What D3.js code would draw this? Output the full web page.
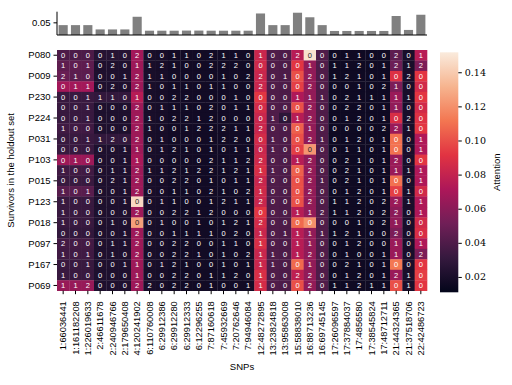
<!DOCTYPE html>
<html>
<head>
<meta charset="utf-8">
<script src="https://cdn.jsdelivr.net/npm/d3@7"></script>
<style>
  body { margin: 0; background: #fff; }
  svg text { font-family: "Liberation Sans", Arial, sans-serif; }
  .cbar text { font-family: "DejaVu Serif", serif; }
</style>
</head>
<body>
<svg id="chart" width="512" height="385"></svg>
<script>
// SNP columns
var snps = ["1:66036441","1:161182208","1:226019633","2:46611678","2:240946766","2:179650408",
  "4:120241902","6:110760008","6:29912386","6:29912280","6:29912333","6:12296255",
  "7:87160618","7:45932669","7:20762646","7:94946084","12:48272895","13:23824818",
  "13:95863008","15:58838010","16:88713236","16:69745145","17:26096597","17:37884037",
  "17:4856580","17:38545824","17:48712711","21:44324365","21:37518706","22:42486723"];

// row labels (only every other survivor is labelled)
var survivorLabels = ["P080","P009","P230","P224","P031","P103","P015","P123","P018","P097","P167","P069"];

// mean attention per SNP (top bars)
var snpAttention = [0.039,0.039,0.039,0.022,0.022,0.022,0.072,0.017,0.017,0.017,0.0175,0.0175,
  0.017,0.017,0.017,0.017,0.085,0.039,0.039,0.088,0.070,0.039,0.016,0.016,0.016,0.016,0.016,
  0.075,0.020,0.080];

// genotype per survivor x SNP (cell annotations)
var genotypes = [
  [0,0,0,0,1,0,2,0,0,1,1,0,2,1,1,0,1,0,0,2,0,0,0,1,1,0,0,2,0,1],
  [1,0,1,0,2,0,1,1,2,1,0,0,2,2,2,0,0,0,0,0,1,0,1,1,2,0,1,2,1,2],
  [2,1,0,0,0,1,2,1,1,0,0,0,0,1,0,2,2,0,1,0,2,0,1,2,1,0,1,0,2,0],
  [0,1,1,0,2,0,2,1,0,1,1,0,1,1,0,0,2,0,0,0,2,0,0,0,1,0,2,1,0,0],
  [0,0,1,1,1,0,1,0,0,2,2,0,0,0,1,0,0,0,0,1,1,1,0,2,1,1,1,1,1,0],
  [0,0,1,0,0,0,2,0,1,1,1,0,2,0,1,1,0,0,0,0,2,0,0,2,2,0,1,1,0,0],
  [0,0,1,0,0,0,2,1,0,2,2,1,2,0,0,0,0,1,0,1,2,0,0,1,2,0,1,0,2,0],
  [1,0,0,0,0,0,2,1,0,0,1,2,2,2,1,1,2,0,0,0,1,0,0,0,0,0,2,2,1,0],
  [0,0,1,1,2,0,2,0,1,0,0,0,1,2,2,0,0,1,0,0,2,1,0,1,2,0,1,0,0,1],
  [0,0,0,0,0,1,1,0,1,2,1,0,1,0,1,1,0,1,0,0,0,0,0,1,1,0,1,0,0,1],
  [0,1,0,0,0,1,1,0,0,0,0,0,2,1,1,2,2,0,0,1,2,0,0,2,1,0,1,2,0,0],
  [1,0,0,0,1,1,2,1,1,2,1,2,2,1,2,1,1,1,0,0,2,0,0,2,1,0,1,1,1,1],
  [0,0,0,0,2,1,2,0,0,2,2,0,1,0,1,1,2,0,0,0,2,1,0,2,1,0,1,0,0,1],
  [1,0,1,0,0,1,2,0,0,1,1,0,2,1,0,2,1,0,0,0,2,0,0,1,2,0,1,0,1,0],
  [1,0,0,0,0,1,0,0,1,1,0,0,1,2,1,1,2,0,0,0,2,0,1,1,2,0,2,2,1,1],
  [1,0,0,0,0,0,2,0,0,2,2,1,2,0,0,0,0,0,0,1,1,2,1,1,2,0,2,2,0,1],
  [1,0,0,0,1,0,0,0,1,0,0,1,0,1,2,1,2,0,0,0,0,0,0,0,1,0,2,1,0,0],
  [0,0,0,0,0,1,2,0,0,1,1,1,1,0,2,0,1,0,1,1,1,1,1,2,1,0,0,2,0,0],
  [2,0,0,0,1,1,2,0,0,2,2,0,0,1,1,0,1,0,0,1,1,0,0,1,2,0,0,1,0,1],
  [1,0,1,0,1,0,2,0,0,2,2,1,0,1,0,2,1,1,0,1,2,0,0,1,0,0,1,1,0,2],
  [0,0,1,0,0,1,1,0,1,2,1,0,0,1,0,1,1,1,0,0,1,0,0,2,1,0,1,0,0,0],
  [1,0,0,0,0,0,1,0,0,2,2,0,1,1,2,0,1,0,0,2,2,0,0,1,2,0,1,2,1,0],
  [1,1,2,0,0,0,2,2,0,2,2,0,1,0,0,1,1,0,0,0,2,0,1,1,2,1,1,0,1,0]
];

// attention per survivor x SNP (cell colour)
var attention = [
  [.039,.039,.039,.025,.025,.025,.068,.020,.019,.017,.017,.017,.017,.017,.017,.017,.082,.040,.039,.075,.148,.040,.016,.016,.016,.016,.016,.045,.020,.075],
  [.045,.045,.045,.022,.022,.022,.066,.020,.019,.017,.017,.017,.017,.017,.017,.017,.084,.040,.039,.092,.062,.040,.016,.016,.016,.016,.016,.050,.020,.055],
  [.048,.044,.044,.022,.022,.022,.066,.020,.019,.017,.017,.017,.017,.017,.017,.017,.082,.040,.039,.100,.062,.040,.016,.016,.016,.016,.016,.090,.020,.092],
  [.068,.068,.068,.022,.022,.022,.066,.020,.019,.017,.017,.017,.017,.017,.017,.017,.082,.040,.039,.095,.062,.040,.016,.016,.016,.016,.016,.055,.020,.085],
  [.032,.032,.032,.030,.030,.030,.075,.020,.019,.017,.017,.017,.017,.017,.017,.017,.092,.040,.039,.072,.062,.040,.016,.016,.016,.016,.016,.065,.020,.092],
  [.032,.032,.032,.022,.022,.022,.066,.020,.019,.017,.017,.017,.017,.017,.017,.017,.086,.040,.039,.100,.062,.040,.016,.016,.016,.016,.016,.062,.020,.085],
  [.032,.032,.032,.022,.022,.022,.066,.020,.019,.017,.017,.017,.017,.017,.017,.017,.082,.040,.028,.075,.062,.040,.016,.016,.016,.016,.016,.088,.020,.090],
  [.035,.035,.035,.022,.022,.022,.066,.020,.019,.017,.017,.017,.017,.017,.017,.017,.082,.040,.039,.105,.062,.040,.016,.016,.016,.016,.016,.065,.020,.092],
  [.032,.032,.032,.030,.030,.030,.066,.020,.019,.017,.017,.017,.017,.017,.017,.017,.086,.040,.039,.100,.062,.040,.016,.016,.016,.016,.016,.110,.020,.072],
  [.032,.032,.032,.022,.022,.022,.066,.020,.019,.017,.017,.017,.017,.017,.017,.017,.082,.040,.039,.095,.122,.040,.016,.016,.016,.016,.016,.110,.020,.072],
  [.066,.066,.066,.022,.022,.022,.070,.020,.019,.017,.017,.017,.017,.017,.017,.017,.084,.040,.039,.075,.062,.040,.016,.016,.016,.016,.016,.065,.020,.092],
  [.035,.035,.035,.022,.022,.022,.066,.020,.019,.017,.017,.017,.017,.017,.017,.017,.088,.040,.039,.105,.062,.040,.016,.016,.016,.016,.016,.065,.020,.072],
  [.032,.032,.032,.022,.022,.022,.066,.020,.019,.017,.017,.017,.017,.017,.017,.017,.082,.040,.039,.100,.062,.040,.016,.016,.016,.016,.016,.110,.020,.072],
  [.043,.043,.043,.022,.022,.022,.066,.020,.019,.017,.017,.017,.017,.017,.017,.017,.084,.040,.039,.100,.062,.040,.016,.016,.016,.016,.016,.095,.020,.085],
  [.032,.032,.032,.022,.022,.022,.145,.020,.019,.017,.017,.017,.017,.017,.017,.017,.082,.040,.039,.100,.062,.040,.016,.016,.016,.016,.016,.065,.020,.072],
  [.032,.032,.032,.022,.022,.022,.066,.020,.019,.017,.017,.017,.017,.017,.017,.017,.092,.040,.039,.075,.062,.040,.016,.016,.016,.016,.016,.060,.020,.072],
  [.032,.032,.032,.022,.022,.022,.125,.020,.019,.017,.017,.017,.017,.017,.017,.017,.086,.040,.039,.108,.120,.040,.016,.016,.016,.016,.016,.062,.020,.085],
  [.030,.030,.030,.022,.022,.022,.066,.020,.019,.017,.017,.017,.017,.017,.017,.017,.082,.040,.039,.075,.062,.040,.016,.016,.016,.016,.016,.055,.020,.088],
  [.036,.036,.036,.022,.022,.022,.066,.020,.019,.017,.017,.017,.017,.017,.017,.017,.088,.040,.039,.075,.062,.040,.016,.016,.016,.016,.016,.065,.020,.072],
  [.035,.035,.035,.022,.022,.022,.066,.020,.019,.017,.017,.017,.017,.017,.017,.017,.082,.040,.039,.075,.062,.040,.016,.016,.016,.016,.016,.065,.020,.055],
  [.032,.032,.032,.022,.022,.022,.066,.020,.019,.017,.017,.017,.017,.017,.017,.017,.082,.040,.039,.108,.062,.040,.016,.016,.016,.016,.016,.112,.020,.092],
  [.032,.032,.032,.022,.022,.022,.066,.020,.019,.017,.017,.017,.017,.017,.017,.017,.088,.040,.039,.078,.062,.040,.016,.016,.016,.016,.016,.065,.020,.095],
  [.064,.064,.064,.022,.022,.022,.066,.020,.019,.017,.017,.017,.017,.017,.017,.017,.086,.040,.039,.100,.062,.040,.016,.016,.016,.016,.016,.100,.020,.092]
];

var colorTicks = [0.02, 0.04, 0.06, 0.08, 0.10, 0.12, 0.14];

var svg = d3.select("#chart");
var hmLeft = 57, hmRight = 427, hmTop = 50, hmBottom = 290.7;

// rocket colormap
var rocket = ["#03051a","#35193e","#701f57","#ad1759","#e13342","#f37651","#f6b48f","#faebdd"];
var vmin = 0.011, vmax = 0.1517;
var color = d3.scaleLinear()
    .domain(rocket.map(function(c, i) { return vmin + (vmax - vmin) * i / (rocket.length - 1); }))
    .range(rocket)
    .interpolate(d3.interpolateRgb)
    .clamp(true);

var x = d3.scaleBand().domain(d3.range(snps.length)).range([hmLeft, hmRight]);
var y = d3.scaleBand().domain(d3.range(genotypes.length)).range([hmTop, hmBottom]);

var cells = [];
genotypes.forEach(function(row, r) {
    row.forEach(function(g, c) {
        cells.push({r: r, c: c, g: g, a: attention[r][c]});
    });
});

svg.append("g").selectAll("rect")
    .data(cells)
    .enter().append("rect")
    .attr("x", function(d) { return x(d.c); })
    .attr("y", function(d) { return y(d.r); })
    .attr("width", x.bandwidth() + 0.3)
    .attr("height", y.bandwidth() + 0.3)
    .attr("fill", function(d) { return color(d.a); });

function lum(c) {
    var rgb = d3.rgb(c);
    var f = function(v) { v = v / 255; return v <= 0.03928 ? v / 12.92 : Math.pow((v + 0.055) / 1.055, 2.4); };
    return 0.2126 * f(rgb.r) + 0.7152 * f(rgb.g) + 0.0722 * f(rgb.b);
}

svg.append("g").selectAll("text")
    .data(cells)
    .enter().append("text")
    .attr("x", function(d) { return x(d.c) + x.bandwidth() / 2; })
    .attr("y", function(d) { return y(d.r) + y.bandwidth() / 2; })
    .attr("dy", "0.35em")
    .attr("text-anchor", "middle")
    .attr("font-size", 7.5)
    .attr("fill", function(d) { return lum(color(d.a)) > 0.408 ? "#262626" : "#fff"; })
    .text(function(d) { return d.g; });

// x axis
var xAxis = svg.append("g")
    .attr("transform", "translate(0," + hmBottom + ")")
    .call(d3.axisBottom(x).tickSize(3.5).tickFormat(function(i) { return snps[i]; }));
xAxis.select(".domain").remove();
xAxis.selectAll("text")
    .attr("transform", "rotate(-90)")
    .attr("x", -10.5)
    .attr("y", 0)
    .attr("dy", "0.35em")
    .attr("text-anchor", "end")
    .attr("font-size", 9.3)
    .attr("fill", "#000");

// y axis
var yAxis = svg.append("g")
    .attr("transform", "translate(" + hmLeft + ",0)")
    .call(d3.axisLeft(y).tickSize(3.5)
        .tickValues(d3.range(0, genotypes.length, 2))
        .tickFormat(function(i) { return survivorLabels[i / 2]; }));
yAxis.select(".domain").remove();
yAxis.selectAll("text").attr("font-size", 9.5).attr("fill", "#000");

svg.append("text")
    .attr("transform", "translate(14," + (hmTop + hmBottom) / 2 + ") rotate(-90)")
    .attr("text-anchor", "middle")
    .attr("font-size", 9.5)
    .text("Survivors in the holdout set");

svg.append("text")
    .attr("x", (hmLeft + hmRight) / 2)
    .attr("y", 370)
    .attr("text-anchor", "middle")
    .attr("font-size", 9.5)
    .text("SNPs");

// top bars
var yb = d3.scaleLinear().domain([0, 0.092]).range([35, 11.7]);
svg.append("g").selectAll("rect")
    .data(snpAttention)
    .enter().append("rect")
    .attr("x", function(d, i) { return x(i) + x.bandwidth() * 0.13; })
    .attr("width", x.bandwidth() * 0.74)
    .attr("y", function(d) { return yb(d); })
    .attr("height", function(d) { return yb(0) - yb(d); })
    .attr("fill", "#808080");

var barAxis = svg.append("g")
    .attr("transform", "translate(" + hmLeft + ",0)")
    .call(d3.axisLeft(yb).tickValues([0.05]).tickSize(3.5).tickFormat(d3.format(".2f")));
barAxis.select(".domain").attr("d", "M0," + yb.range()[1] + "V" + yb.range()[0]);
barAxis.selectAll("text").attr("font-size", 9.5).attr("fill", "#000");
svg.append("line")
    .attr("x1", hmLeft).attr("x2", hmRight)
    .attr("y1", yb(0)).attr("y2", yb(0))
    .attr("stroke", "#000");

// colour bar
var cb = d3.scaleLinear().domain([vmin, vmax]).range([292.3, 52.3]);
var grad = svg.append("defs").append("linearGradient")
    .attr("id", "rocket").attr("x1", 0).attr("x2", 0).attr("y1", 1).attr("y2", 0);
grad.selectAll("stop")
    .data(rocket)
    .enter().append("stop")
    .attr("offset", function(d, i) { return i / (rocket.length - 1); })
    .attr("stop-color", function(d) { return d; });
svg.append("rect")
    .attr("x", 440).attr("y", cb(vmax))
    .attr("width", 18.3).attr("height", cb(vmin) - cb(vmax))
    .attr("fill", "url(#rocket)");
var cbAxis = svg.append("g")
    .attr("class", "cbar")
    .attr("transform", "translate(458.3,0)")
    .call(d3.axisRight(cb).tickValues(colorTicks).tickSize(3.5).tickFormat(d3.format(".2f")));
cbAxis.select(".domain").remove();
cbAxis.selectAll("text").attr("font-size", 9.5).attr("fill", "#000");

svg.append("text")
    .attr("transform", "translate(497," + (cb(vmin) + cb(vmax)) / 2 + ") rotate(-90)")
    .attr("text-anchor", "middle")
    .attr("dy", "0.35em")
    .attr("font-size", 9.5)
    .text("Attention");
</script>
</body>
</html>
